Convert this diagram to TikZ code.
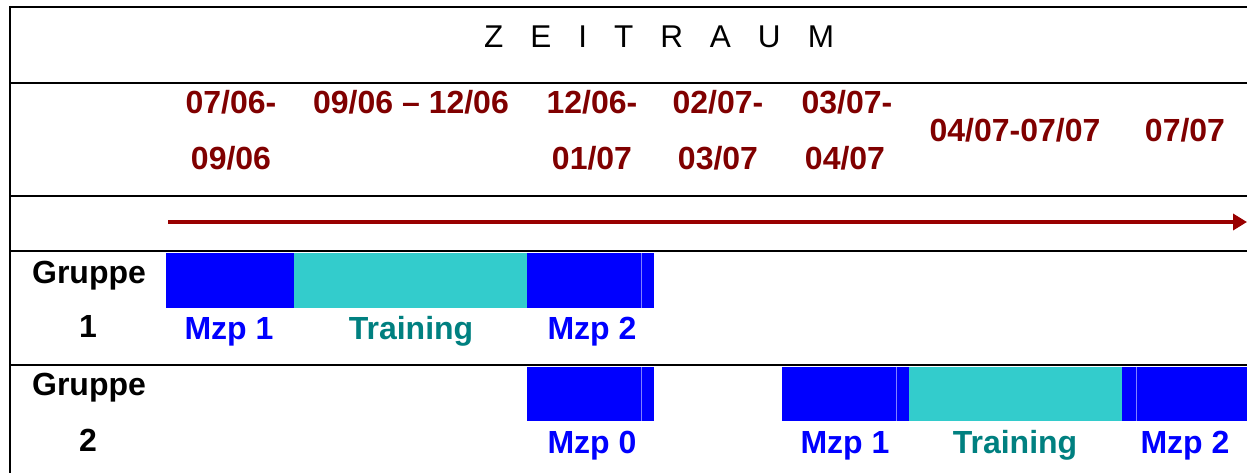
\documentclass[tikz,border=0pt]{standalone}
\usepackage{fontspec}
\setmainfont{Liberation Sans}
\usetikzlibrary{arrows.meta}
\definecolor{datered}{HTML}{800000}
\definecolor{arrowred}{HTML}{990000}
\definecolor{mzpblue}{HTML}{0000FF}
\definecolor{sepblue}{HTML}{8080FF}
\definecolor{trainfill}{HTML}{33CCCC}
\definecolor{traintext}{HTML}{008080}
\tikzset{
  grid/.style={line width=2.4pt, black},
  big/.style={font=\fontsize{32}{38}\selectfont\bfseries, inner sep=0pt, anchor=base},
  datelbl/.style={big, text=datered},
  grplbl/.style={big, text=black},
  mzplbl/.style={big, text=mzpblue},
  trainlbl/.style={big, text=traintext},
  mzpbar/.style={fill=mzpblue},
  trainbar/.style={fill=trainfill},
  sepline/.style={draw=sepblue, line width=1pt},
}
\begin{document}
\begin{tikzpicture}[x=1pt,y=-1pt]
\useasboundingbox (0,0) rectangle (1247,473);
% grid
\draw[grid] (10,7) -- (1247,7);
\draw[grid] (10,83) -- (1247,83);
\draw[grid] (10,196) -- (1247,196);
\draw[grid] (10,251) -- (1247,251);
\draw[grid] (10,365) -- (1247,365);
\draw[grid] (10,5.8) -- (10,473);
% title
\node[font=\fontsize{31.5}{37}\selectfont, inner sep=0pt, anchor=base] (title) at (659,48) {\spaceskip=27pt plus 0pt minus 0pt Z E I T R A U M};
% dates
\node[datelbl] (d1a) at (231,114) {07/06-};
\node[datelbl] (d1b) at (231,170) {09/06};
\node[datelbl] (d2) at (411,114) {09/06 -- 12/06};
\node[datelbl] (d3a) at (592,114) {12/06-};
\node[datelbl] (d3b) at (592,170) {01/07};
\node[datelbl] (d4a) at (718,114) {02/07-};
\node[datelbl] (d4b) at (718,170) {03/07};
\node[datelbl] (d5a) at (847,114) {03/07-};
\node[datelbl] (d5b) at (845,170) {04/07};
\node[datelbl] (d6) at (1015,142) {04/07-07/07};
\node[datelbl] (d7) at (1185,142) {07/07};
% arrow
\coordinate (as) at (168,222);
\coordinate (ae) at (1247,222);
\draw[arrowred, line width=4.5pt, -{Triangle[length=14pt,width=16pt]}] (as) -- (ae);
% group labels
\node[grplbl] (g1) at (89,283) {Gruppe};
\node[grplbl] (g1n) at (88,337) {1};
\node[grplbl] (g2) at (89,395) {Gruppe};
\node[grplbl] (g2n) at (88,451) {2};
% group 1 bars
\fill[mzpbar] (166,253) rectangle (294,308);
\fill[trainbar] (294,253) rectangle (527,308);
\fill[mzpbar] (527,253) rectangle (654,308);
\draw[sepline] (641.5,253) -- (641.5,308);
% group 2 bars
\fill[mzpbar] (527,366.5) rectangle (654,421);
\draw[sepline] (641.5,366.5) -- (641.5,421);
\fill[mzpbar] (782,366.5) rectangle (909,421);
\draw[sepline] (896.5,366.5) -- (896.5,421);
\fill[trainbar] (909,366.5) rectangle (1122,421);
\fill[mzpbar] (1122,366.5) rectangle (1247,421);
\draw[sepline] (1136.5,366.5) -- (1136.5,421);
% bar labels
\node[mzplbl] (m11) at (229,339) {Mzp 1};
\node[trainlbl] (t1) at (411,339) {Training};
\node[mzplbl] (m12) at (592,339) {Mzp 2};
\node[mzplbl] (m20) at (592,453) {Mzp 0};
\node[mzplbl] (m21) at (845,453) {Mzp 1};
\node[trainlbl] (t2) at (1015,453) {Training};
\node[mzplbl] (m22) at (1185,453) {Mzp 2};
\end{tikzpicture}
\end{document}
